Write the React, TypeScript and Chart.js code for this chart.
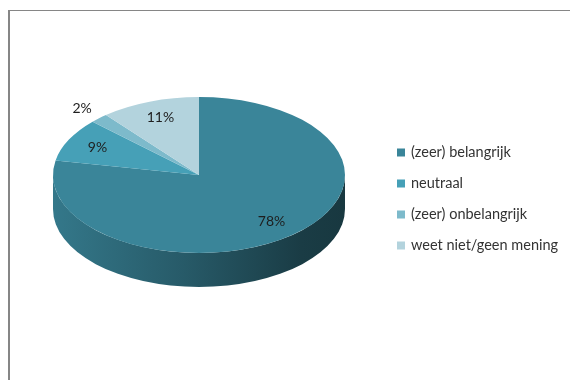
import React, { useEffect, useRef } from "react";
import { Chart, registerables } from "chart.js";

Chart.register(...registerables);

const categories = ["(zeer) belangrijk", "neutraal", "(zeer) onbelangrijk", "weet niet/geen mening"];
const values = [78, 9, 2, 11];
const colors = ["#3A8599", "#46A0B7", "#7DBACB", "#B3D3DD"];

const TILT = 0.534; // vertical squash of the pie top
const DEPTH = 34;

function shade(hex: string, f: number) {
  const n = parseInt(hex.slice(1), 16);
  const r = Math.round(((n >> 16) & 255) * f);
  const g = Math.round(((n >> 8) & 255) * f);
  const b = Math.round((n & 255) * f);
  return `rgb(${r},${g},${b})`;
}

const pie3d = {
  id: "pie3d",
  beforeDraw(chart: any) {
    const ctx = chart.ctx;
    ctx.save();
    ctx.fillStyle = "#868686";
    ctx.fillRect(8, 10, 562, 1);
    ctx.fillRect(8, 10, 2, 370);
    ctx.restore();
  },
  beforeDatasetsDraw(chart: any) {
    const ctx = chart.ctx;
    const meta = chart.getDatasetMeta(0);
    const arcs = meta.data;
    if (!arcs.length) return;
    const cx = arcs[0].x;
    const cy = arcs[0].y;
    arcs.forEach((arc: any, i: number) => {
      const rx = arc.outerRadius;
      const ry = rx * TILT;
      const a1 = Math.max(arc.startAngle, 0);
      const a2 = Math.min(arc.endAngle, Math.PI);
      if (a1 >= a2) return;
      const col = colors[i];
      const g = ctx.createLinearGradient(cx - rx, 0, cx + rx, 0);
      g.addColorStop(0, shade(col, 0.9));
      g.addColorStop(0.45, shade(col, 0.68));
      g.addColorStop(0.85, shade(col, 0.45));
      g.addColorStop(1, shade(col, 0.42));
      ctx.save();
      ctx.beginPath();
      ctx.ellipse(cx, cy, rx, ry, 0, a1, a2, false);
      ctx.ellipse(cx, cy + DEPTH, rx, ry, 0, a2, a1, true);
      ctx.closePath();
      ctx.fillStyle = g;
      ctx.fill();
      ctx.restore();
    });
    ctx.save();
    ctx.translate(cx, cy);
    ctx.scale(1, TILT);
    ctx.translate(-cx, -cy);
  },
  afterDatasetsDraw(chart: any) {
    const ctx = chart.ctx;
    ctx.restore();
    const meta = chart.getDatasetMeta(0);
    const arcs = meta.data;
    const total = values.reduce((a, b) => a + b, 0);
    ctx.save();
    ctx.font = "14px Lato";
    ctx.fillStyle = "#1e1e1e";
    ctx.textAlign = "center";
    ctx.textBaseline = "middle";
    arcs.forEach((arc: any, i: number) => {
      const pct = (values[i] / total) * 100;
      const mid = (arc.startAngle + arc.endAngle) / 2;
      const f = pct < 5 ? 1.17 : 0.78;
      const r = arc.outerRadius * f;
      const x = arc.x + Math.cos(mid) * r;
      const y = arc.y + Math.sin(mid) * r * TILT;
      ctx.fillText(Math.round(pct) + "%", x, y);
    });
    // legend
    ctx.textAlign = "left";
    ctx.font = "14.5px Lato";
    categories.forEach((c, i) => {
      const y = 152.5 + i * 31;
      ctx.fillStyle = colors[i];
      ctx.fillRect(397, y - 4, 8, 8);
      ctx.fillStyle = "#333333";
      ctx.fillText(c, 411, y);
    });
    ctx.restore();
  },
};

export default function App() {
  const ref = useRef<HTMLCanvasElement>(null);
  useEffect(() => {
    if (!ref.current) return;
    const chart = new Chart(ref.current, {
      type: "pie",
      data: {
        labels: categories,
        datasets: [
          {
            data: values,
            backgroundColor: colors,
            borderWidth: 0,
            hoverOffset: 0,
            clip: false as any,
          },
        ],
      },
      options: {
        responsive: false,
        animation: false,
        rotation: 0,
        layout: { padding: { left: 53, right: 225, top: 29, bottom: 59 } },
        plugins: { legend: { display: false }, tooltip: { enabled: false } },
        events: [],
      },
      plugins: [pie3d],
    });
    return () => chart.destroy();
  }, []);
  return (
    <div style={{ position: "fixed", left: 0, top: 0, width: 570, height: 380, background: "#fff" }}>
      <canvas ref={ref} width={570} height={380} style={{ width: 570, height: 380, display: "block" }} />
    </div>
  );
}
